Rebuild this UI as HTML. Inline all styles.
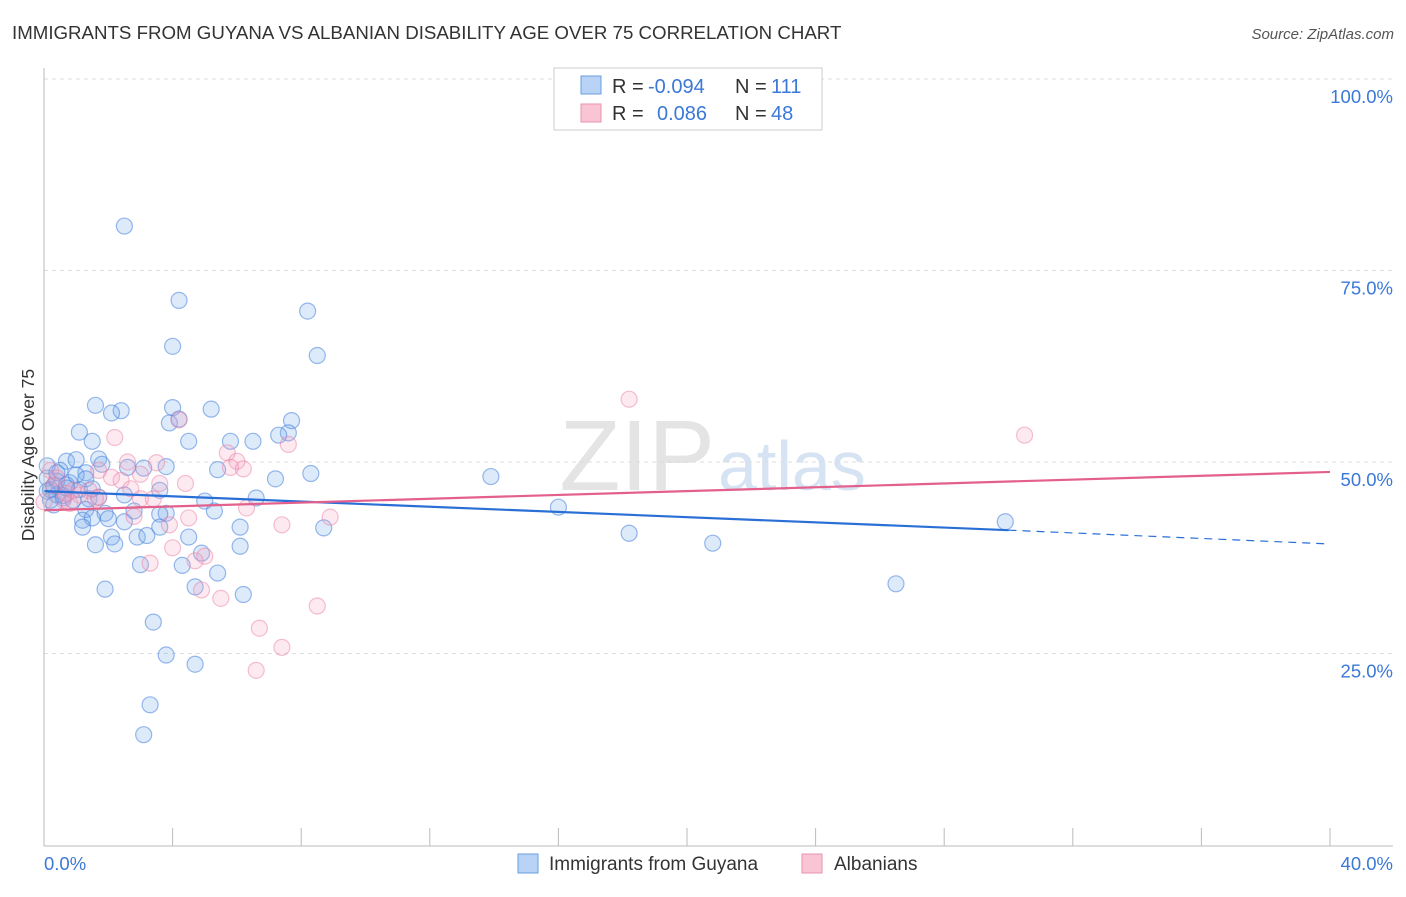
<!DOCTYPE html>
<html><head><meta charset="utf-8"><style>
body{margin:0;background:#fff;font-family:"Liberation Sans",sans-serif;}
svg text{font-family:"Liberation Sans",sans-serif;}
</style></head><body>
<svg id="chart" width="1406" height="892">
<text x="12" y="39" font-size="18.7" fill="#333">IMMIGRANTS FROM GUYANA VS ALBANIAN DISABILITY AGE OVER 75 CORRELATION CHART</text>
<text x="1394" y="39" font-size="15" fill="#555" font-style="italic" text-anchor="end">Source: ZipAtlas.com</text>
<text x="0" y="0" transform="translate(34,455) rotate(-90)" font-size="17.5" fill="#333" text-anchor="middle">Disability Age Over 75</text>
<text x="715" y="490" font-size="100" fill="#e4e4e4" font-family="Liberation Serif" text-anchor="end">ZIP</text>
<text x="718" y="490" font-size="70" fill="#d6e3f3">atlas</text>
<g id="grid"></g><g id="xt"></g><g id="pts"></g><g id="lines"></g>
<line x1="44" y1="68" x2="44" y2="846" stroke="#bbb"/>
<line x1="44" y1="846" x2="1393" y2="846" stroke="#bbb"/>
<text x="44" y="870" font-size="18.5" fill="#3b78d8">0.0%</text>
<text x="1393" y="870" font-size="18.5" fill="#3b78d8" text-anchor="end">40.0%</text>
<g>
<rect x="554" y="68" width="268" height="62" fill="#fff" stroke="#ccc"/>
<rect x="581" y="76" width="20" height="18" fill="#b8d3f5" stroke="#6a9de0"/>
<rect x="581" y="104" width="20" height="18" fill="#f9c4d4" stroke="#ea93ae"/>
<text x="612" y="93" font-size="20" fill="#333">R =</text>
<text x="648" y="93" font-size="20" fill="#3b78d8">-0.094</text>
<text x="735" y="93" font-size="20" fill="#333">N =</text>
<text x="771" y="93" font-size="20" fill="#3b78d8">111</text>
<text x="612" y="120" font-size="20" fill="#333">R =</text>
<text x="657" y="120" font-size="20" fill="#3b78d8">0.086</text>
<text x="735" y="120" font-size="20" fill="#333">N =</text>
<text x="771" y="120" font-size="20" fill="#3b78d8">48</text>
</g>
<g><rect x="518" y="854" width="20" height="19" fill="#b8d3f5" stroke="#6a9de0"/><text x="549" y="870" font-size="19" fill="#333">Immigrants from Guyana</text></g>
<g><rect x="802" y="854" width="20" height="19" fill="#f9c4d4" stroke="#ea93ae"/><text x="834" y="870" font-size="19" fill="#333">Albanians</text></g>
</svg>
<script>
const yTicks=[25,50,75,100];
const xTickVals=[0,4,8,12,16,20,24,28,32,36,40];
const blueX=[2.5,4.2,4.0,8.2,8.5,1.6,2.4,2.1,5.2,4.0,3.9,4.2,7.7,7.6,7.3,1.1,1.5,4.5,5.8,6.5,0.7,1.0,1.7,1.8,2.6,3.1,3.8,5.4,8.3,7.2,13.9,0.5,1.3,0.4,0.8,0.3,0.1,0.1,0.4,0.6,1.4,1.7,2.5,3.6,5.0,6.6,5.3,1.3,2.8,1.9,3.8,3.6,16.0,1.2,1.5,2.0,2.5,1.2,3.6,6.1,8.7,2.1,2.2,2.9,3.2,4.5,1.6,6.1,18.2,20.8,29.9,3.0,4.3,4.9,5.4,4.7,1.9,6.2,26.5,3.4,3.8,4.7,3.3,3.1,0.1,0.2,0.7,0.9,0.2,0.3,0.6,1.1,0.4,0.7,1.0,1.3,1.5];
const blueY=[80.8,71.1,65.1,69.7,63.9,57.4,56.7,56.4,56.9,57.1,55.1,55.6,55.4,53.8,53.5,53.9,52.7,52.7,52.7,52.7,50.1,50.3,50.4,49.7,49.3,49.2,49.4,49.0,48.5,47.8,48.1,48.9,48.6,47.5,47.3,46.9,47.9,46.2,45.7,45.3,45.2,45.4,45.7,46.3,44.9,45.3,43.6,43.8,43.6,43.3,43.3,43.2,44.1,42.4,42.7,42.6,42.2,41.5,41.5,41.5,41.4,40.2,39.3,40.2,40.4,40.2,39.2,39.0,40.7,39.4,42.2,36.6,36.5,38.1,35.5,33.7,33.4,32.7,34.1,29.1,24.8,23.6,18.3,14.4,49.5,46.4,47.0,45.0,45.0,44.4,45.6,46.4,48.6,46.6,48.3,47.8,46.5];
const pinkX=[2.2,4.2,5.7,6.0,6.2,5.8,7.6,2.6,3.5,3.0,2.1,3.6,4.4,3.0,3.4,4.5,6.3,7.4,8.9,2.8,3.9,4.0,5.0,3.3,4.7,4.9,5.5,8.5,6.7,7.4,6.6,18.2,30.5,0.2,0.3,0.6,0.8,1.1,1.4,1.7,2.4,0.0,0.7,0.4,1.6,2.7,1.7,0.9];
const pinkY=[53.2,55.5,51.2,50.1,49.1,49.3,52.3,50.0,49.9,48.4,48.0,47.2,47.2,45.2,45.2,42.7,44.0,41.8,42.8,42.9,41.8,38.8,37.7,36.8,37.1,33.3,32.2,31.2,28.3,25.8,22.8,58.2,53.5,48.9,46.9,45.0,44.6,45.7,46.3,45.4,47.6,44.8,45.9,47.9,45.2,46.5,48.9,46.3];
const blueTrend=[0,46.2,30,41.1,40,39.3];
const pinkTrend=[0,43.7,40,48.7];
const X=v=>44+v*32.15, Y=v=>845-v*7.66;
const ns='http://www.w3.org/2000/svg';
function mk(t,a,p){const e=document.createElementNS(ns,t);for(const k in a)e.setAttribute(k,a[k]);document.getElementById(p).appendChild(e);return e;}
yTicks.forEach(v=>{
 const l=mk('line',{x1:44,x2:1393,y1:Y(v),y2:Y(v),stroke:'#ddd','stroke-dasharray':'4,4'},'grid');
 
 
 const t=mk('text',{x:1393,y:Y(v)+24,'font-size':18.5,fill:'#3b78d8','text-anchor':'end'},'grid');
 t.textContent=v.toFixed(1)+'%';
 
 
});
xTickVals.forEach(v=>{
 const l=mk('line',{x1:X(v),x2:X(v),y1:828,y2:846,stroke:'#bbb'},'xt');
 
 
});
blueX.forEach((v,i)=>{
 const c=mk('circle',{cx:X(v),cy:Y(blueY[i]),r:8,fill:'rgba(120,170,235,0.25)',stroke:'rgba(70,130,220,0.55)','stroke-width':1.2},'pts');
 
 
});
pinkX.forEach((v,i)=>{
 const c=mk('circle',{cx:X(v),cy:Y(pinkY[i]),r:8,fill:'rgba(245,160,190,0.22)',stroke:'rgba(235,130,165,0.5)','stroke-width':1.2},'pts');
 
 
});
let b=mk('line',{x1:X(blueTrend[0]),y1:Y(blueTrend[1]),x2:X(blueTrend[2]),y2:Y(blueTrend[3]),stroke:'#2a6fd6','stroke-width':2.2},'lines');


b=mk('line',{x1:X(blueTrend[2]),y1:Y(blueTrend[3]),x2:X(blueTrend[4]),y2:Y(blueTrend[5]),stroke:'#2a6fd6','stroke-width':1.2,'stroke-dasharray':'8,6'},'lines');


b=mk('line',{x1:X(pinkTrend[0]),y1:Y(pinkTrend[1]),x2:X(pinkTrend[2]),y2:Y(pinkTrend[3]),stroke:'#e4608c','stroke-width':2.2},'lines');


</script>
</body></html>
